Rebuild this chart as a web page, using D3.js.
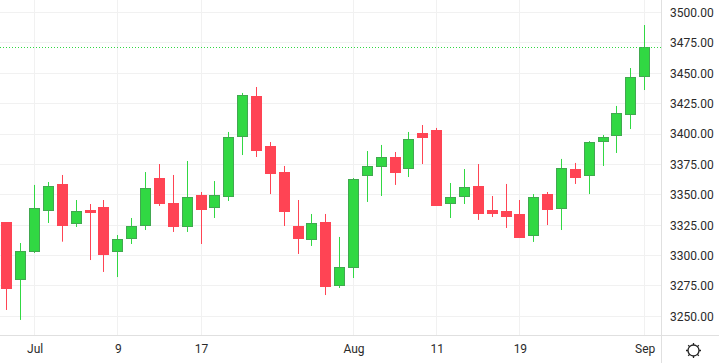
<!DOCTYPE html>
<html>
<head>
<meta charset="utf-8">
<script src="https://cdn.jsdelivr.net/npm/d3@7"></script>
<style>
  html, body { margin: 0; padding: 0; background: #fff; overflow: hidden; }
</style>
</head>
<body>
<div id="chart"></div>
<script>
// values
const opens = [3327.6,3280.1,3303.2,3337.7,3358.9,3326.2,3337.5,3340.0,3303.2,3313.9,3324.6,3363.8,3343.2,3323.7,3349.8,3339.4,3348.4,3397.8,3431.3,3390.1,3368.7,3324.3,3313.0,3327.6,3275.2,3290.0,3365.7,3373.9,3381.1,3371.5,3400.9,3403.3,3342.7,3349.2,3357.2,3337.5,3336.7,3334.2,3316.3,3350.6,3338.6,3371.2,3365.7,3393.7,3398.6,3415.9,3447.2];
const highs = [3327.6,3310.3,3358.1,3360.5,3366.3,3345.7,3342.4,3345.7,3316.9,3330.9,3368.7,3375.3,3366.3,3377.8,3352.3,3361.3,3401.7,3433.8,3438.7,3393.4,3373.7,3345.7,3334.2,3334.2,3315.3,3363.8,3386.0,3391.0,3385.2,3401.7,3407.4,3405.0,3359.7,3371.2,3375.3,3349.0,3358.9,3345.7,3350.6,3352.3,3379.5,3376.2,3394.2,3399.2,3423.1,3454.3,3489.7];
const lows = [3255.2,3247.0,3302.1,3326.8,3311.4,3323.5,3296.3,3286.5,3282.3,3309.5,3321.0,3340.8,3319.4,3319.4,3309.5,3330.9,3344.9,3382.7,3381.1,3350.6,3324.3,3301.3,3307.9,3267.5,3273.3,3281.5,3344.1,3349.0,3358.1,3364.6,3375.3,3340.8,3330.9,3342.4,3329.3,3331.7,3322.7,3314.4,3311.2,3325.1,3321.0,3358.9,3350.6,3373.7,3384.4,3404.1,3436.2];
const closes = [3273.5,3303.5,3338.9,3357.2,3325.4,3336.4,3335.8,3301.3,3313.4,3324.1,3355.3,3343.2,3324.3,3347.9,3338.3,3349.6,3397.3,3431.9,3386.9,3367.9,3336.7,3314.4,3326.5,3275.0,3290.3,3362.7,3373.4,3380.9,3368.7,3395.7,3397.6,3341.6,3347.9,3356.2,3335.0,3335.0,3332.5,3315.3,3347.9,3338.3,3371.8,3364.6,3393.2,3397.3,3417.1,3446.7,3471.4];

const priceTicks = [3250,3275,3300,3325,3350,3375,3400,3425,3450,3475,3500];
const timeTickIdx = [2,8,14,25,31,37,46];
const timeTickLabels = ["Jul","9","17","Aug","11","19","Sep"];

const width = 719, height = 363;
const axisX = 661.5, axisY = 335.5;
const green = "#31d843", greenEdge = "#41a850", red = "#ff4454";

const x = d3.scaleLinear().domain([2, 46]).range([34.65, 644.65]);
const y = d3.scaleLinear().domain([3250, 3500]).range([316.3, 12.5]);
const px = i => Math.floor(x(i)) + 0.5;

const svg = d3.select("#chart").append("svg")
  .attr("width", width)
  .attr("height", height)
  .style("display", "block");

// grid
svg.selectAll("line.hgrid").data(priceTicks).enter().append("line")
  .attr("class", "hgrid")
  .attr("x1", 0).attr("x2", axisX)
  .attr("y1", d => Math.floor(y(d)) + 0.5).attr("y2", d => Math.floor(y(d)) + 0.5)
  .attr("stroke", "#f1f1f1");
svg.selectAll("line.vgrid").data(timeTickIdx).enter().append("line")
  .attr("class", "vgrid")
  .attr("x1", px).attr("x2", px)
  .attr("y1", 0).attr("y2", axisY)
  .attr("stroke", "#f1f1f1");

// candles
const candles = svg.selectAll("g.candle").data(d3.range(opens.length)).enter().append("g").attr("class", "candle");
const isUp = i => closes[i] >= opens[i];
const bodyW = 10;

candles.append("line")
  .attr("x1", px).attr("x2", px)
  .attr("y1", i => y(highs[i])).attr("y2", i => y(lows[i]))
  .attr("stroke", i => isUp(i) ? green : red)
  .attr("stroke-width", 1);

candles.append("rect")
  .attr("x", i => px(i) - bodyW / 2)
  .attr("y", i => Math.round(y(Math.max(opens[i], closes[i]))) + 0.5)
  .attr("width", bodyW)
  .attr("height", i => Math.max(1, Math.round(Math.abs(y(opens[i]) - y(closes[i])))))
  .attr("fill", i => isUp(i) ? green : red)
  .attr("stroke", i => isUp(i) ? greenEdge : red)
  .attr("stroke-width", 1);

// last price line
const lastY = Math.round(y(closes[closes.length - 1])) + 0.5;
svg.append("line")
  .attr("x1", 0).attr("x2", axisX)
  .attr("y1", lastY).attr("y2", lastY)
  .attr("stroke", green)
  .attr("stroke-dasharray", "1,2");

// axes
const yAxis = svg.append("g")
  .attr("transform", `translate(${axisX},0)`)
  .call(d3.axisRight(y).tickValues(priceTicks).tickSize(0).tickPadding(8.5).tickFormat(d3.format(".2f")));
yAxis.select(".domain").remove();

const xAxis = svg.append("g")
  .attr("transform", `translate(0,${axisY})`)
  .call(d3.axisBottom(x).tickValues(timeTickIdx).tickSize(0).tickPadding(9).tickFormat((d, i) => timeTickLabels[i]));
xAxis.select(".domain").remove();

svg.selectAll(".tick text").style("font-family", "Roboto, sans-serif").style("font-size", "12px").style("fill", "#2a2a2a");

svg.append("line").attr("x1", axisX).attr("x2", axisX).attr("y1", 0).attr("y2", height).attr("stroke", "#e0e0e0");
svg.append("line").attr("x1", 0).attr("x2", width).attr("y1", axisY).attr("y2", axisY).attr("stroke", "#e0e0e0");

// settings icon
const icon = svg.append("g").attr("transform", "translate(693.5,350.5)").attr("stroke", "#222").attr("stroke-width", 1.3).attr("fill", "none");
icon.append("circle").attr("r", 5.5);
d3.range(8).forEach(k => {
  const a = k * Math.PI / 4;
  icon.append("line")
    .attr("x1", Math.cos(a) * 5.5).attr("y1", Math.sin(a) * 5.5)
    .attr("x2", Math.cos(a) * 7.5).attr("y2", Math.sin(a) * 7.5);
});
</script>
</body>
</html>
